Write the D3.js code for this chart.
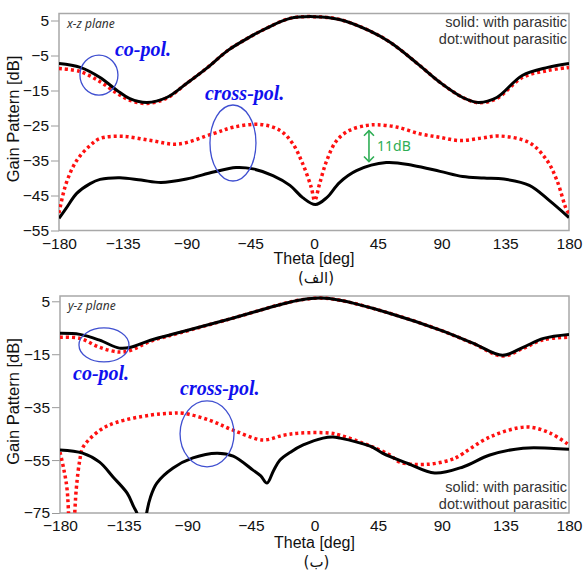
<!DOCTYPE html>
<html>
<head>
<meta charset="utf-8">
<script src="https://cdn.jsdelivr.net/npm/d3@7"></script>
<style>
  body { margin: 0; background: #fff; }
  svg { display: block; }
</style>
</head>
<body>
<svg id="chart"></svg>
<script>
// tick labels
const thetaTicks = [-180, -135, -90, -45, 0, 45, 90, 135, 180];
const xzTicks = [5, -5, -15, -25, -35, -45, -55];
const yzTicks = [5, -15, -35, -55, -75];

// x-z plane, [theta deg, gain dB]
const xzCoSolid = [[-180,-7.3],[-165,-8.4],[-151,-11.3],[-139,-15],[-130,-17.3],[-118,-18.4],[-104,-17],[-90,-13],[-75,-8.4],[-61,-3.6],[-47,-0.1],[-35,2.5],[-17,5.6],[0,6.1],[18,5.3],[39,2.1],[54,-1.3],[73,-7.3],[89,-12.7],[105,-17],[116,-18.4],[129,-17],[147,-10.7],[165,-8.4],[180,-7.3]];
const xzCoDot = [[-180,-8.7],[-165,-9.6],[-151,-12.5],[-139,-15.8],[-130,-17.8],[-118,-18.7],[-104,-17.2],[-90,-13],[-75,-8.4],[-61,-3.6],[-47,-0.1],[-35,2.5],[-17,5.6],[0,6.1],[18,5.3],[39,2.1],[54,-1.3],[73,-7.3],[89,-12.7],[105,-17],[116,-18.5],[129,-17.3],[147,-11.3],[165,-9.3],[180,-8.4]];
const xzCrossSolid = [[-180,-51.5],[-175,-48.7],[-167.5,-44.4],[-158,-41.6],[-151,-40.4],[-137,-39.9],[-122,-40.6],[-108,-41.3],[-90,-40.3],[-71,-38.3],[-55,-37],[-43,-37.4],[-29,-39.3],[-17,-42.1],[-8,-45.6],[1,-47.6],[9,-45.6],[18,-41.3],[30,-37.9],[51,-35.6],[70,-36.4],[89,-38.1],[105,-39.6],[120,-40],[134,-40.3],[152,-42.1],[166,-46.4],[180,-51.3]];
const xzCrossDot = [[-180,-50],[-175,-41.6],[-167.5,-35],[-158,-30.7],[-151,-28.7],[-135,-28.1],[-115,-29.3],[-96,-30.3],[-71,-27.3],[-57,-25.5],[-38,-24.7],[-24,-26.4],[-15,-30.2],[-8,-35.9],[-2,-42.6],[0.5,-46.4],[4,-41.6],[9,-35],[16,-29.3],[25,-26.4],[37,-25],[45,-24.8],[59,-25.5],[75,-27.4],[89,-28.4],[103,-29.3],[118,-28.6],[131,-28],[152,-29.9],[164.5,-35],[171.5,-40.7],[178.5,-49.3],[180,-50]];

// y-z plane, [theta deg, gain dB]
const yzCoSolid = [[-180,-7.1],[-166,-7.5],[-152,-9.7],[-138,-12.7],[-130,-12.4],[-116,-9.7],[-95,-6.7],[-58,-1.4],[-22,4.1],[-10,5.5],[4,6.2],[18,5.4],[53,0.5],[89,-5.9],[112,-10.8],[133,-15.4],[147.5,-12.4],[162,-9],[180,-7.5]];
const yzCoDot = [[-180,-8.6],[-166,-9],[-152,-12.4],[-138,-14.2],[-130,-13.5],[-116,-10.1],[-95,-6.9],[-58,-1.4],[-22,4.1],[-10,5.5],[4,6.2],[18,5.4],[53,0.5],[89,-5.9],[112,-10.9],[133,-15.7],[147.5,-12.8],[162,-9.5],[180,-8.6]];
const yzCrossSolid = [[-180,-51.2],[-164,-52.4],[-152,-55.8],[-142.5,-61.4],[-132.5,-67.5],[-128,-72.5],[-125,-76],[-122,-95],[-119,-76],[-116,-69],[-111.5,-63.7],[-100,-58],[-86,-54.2],[-69,-52.4],[-57.5,-53.5],[-43.5,-58.8],[-38,-61],[-33.6,-63.7],[-29,-59],[-24.4,-55],[-17,-52],[-8,-49.3],[6,-46.7],[13,-46.3],[18,-46.7],[30,-48.2],[41,-50.1],[48,-52.4],[66,-56.3],[85,-59.9],[105,-57.6],[124,-53.1],[147.5,-50.5],[166.6,-50.5],[180,-50.9]];
const yzCrossDot = [[-180,-52],[-177.5,-58],[-175,-66],[-172,-95],[-168.5,-66],[-166,-55],[-163.7,-50.1],[-151.7,-43.7],[-139.7,-40.7],[-116,-38],[-102,-37.3],[-93,-37.3],[-74,-40],[-57.6,-43.7],[-36.4,-47.4],[-22,-45.6],[-10.3,-44.8],[11,-44.8],[18,-45.6],[34.3,-48.6],[41.4,-50.1],[53.4,-53.1],[60.5,-55.8],[80,-56.6],[95.8,-55],[100.8,-53.9],[124,-46.3],[150,-42.5],[166.6,-44.8],[180,-49.3]];

const legendLines = ["solid: with parasitic", "dot:without parasitic"];

const svg = d3.select("#chart").attr("width", 583).attr("height", 572);

const panels = [
  {
    id: "xz", x0: 59, x1: 569, y0: 13.5, y1: 230.5, yDomain: [-55, 7], ticks: xzTicks,
    plane: "x-z plane", caption: "(الف)", captionY: 283, thetaY: 264,
    solids: [xzCoSolid, xzCrossSolid], dots: [xzCoDot, xzCrossDot],
    legendY: 27,
    notes: [
      { type: "ellipse", t: -151.8, v: -10.6, rx: 19, ry: 20 },
      { type: "ellipse", t: -57.2, v: -30, rx: 23, ry: 38 },
      { type: "label", t: -140.5, v: -5.1, text: "co-pol." },
      { type: "label", t: -77, v: -17.7, text: "cross-pol." }
    ],
    arrow: { t: 38.8, v0: -26.5, v1: -35.3, text: "11dB", tt: 44.5, tv: -32.3 }
  },
  {
    id: "yz", x0: 60, x1: 569, y0: 296, y1: 513, yDomain: [-75, 7], ticks: yzTicks,
    plane: "y-z plane", caption: "(ب)", captionY: 567, thetaY: 548,
    solids: [yzCoSolid, yzCrossSolid], dots: [yzCoDot, yzCrossDot],
    legendY: 492,
    notes: [
      { type: "ellipse", t: -148.9, v: -11.5, rx: 25, ry: 17 },
      { type: "ellipse", t: -76, v: -45.1, rx: 27, ry: 33 },
      { type: "label", t: -170.8, v: -24.7, text: "co-pol." },
      { type: "label", t: -95.1, v: -30.4, text: "cross-pol." }
    ]
  }
];

panels.forEach(p => {
  const x = d3.scaleLinear().domain([-180, 180]).range([p.x0, p.x1]);
  const y = d3.scaleLinear().domain(p.yDomain).range([p.y1, p.y0]);

  svg.append("clipPath").attr("id", "clip-" + p.id)
    .append("rect")
    .attr("x", p.x0).attr("y", p.y0)
    .attr("width", p.x1 - p.x0).attr("height", p.y1 - p.y0);

  // y axis
  const ya = svg.append("g")
    .attr("transform", `translate(${p.x0},0)`)
    .call(d3.axisLeft(y).tickValues(p.ticks).tickSize(8).tickPadding(2));
  ya.select(".domain").remove();
  ya.selectAll("line").attr("stroke", "#9a9a9a");
  ya.selectAll("text").attr("font-family", "Liberation Sans, Arial, sans-serif")
    .attr("font-size", 15.5).attr("fill", "#111");

  // x axis
  const xa = svg.append("g")
    .attr("transform", `translate(0,${p.y1})`)
    .call(d3.axisBottom(x).tickValues(thetaTicks).tickSize(0).tickPadding(7));
  xa.select(".domain").remove();
  xa.selectAll("text").attr("font-family", "Liberation Sans, Arial, sans-serif")
    .attr("font-size", 15.5).attr("fill", "#111");

  // frame
  svg.append("rect")
    .attr("x", p.x0).attr("y", p.y0)
    .attr("width", p.x1 - p.x0).attr("height", p.y1 - p.y0)
    .attr("fill", "none").attr("stroke", "#a8a8a8").attr("stroke-width", 1.5);

  const line = d3.line()
    .x(d => x(d[0])).y(d => y(d[1]))
    .curve(d3.curveCatmullRom.alpha(0.5));

  const g = svg.append("g").attr("clip-path", `url(#clip-${p.id})`);

  g.selectAll(".dot")
    .data(p.dots)
    .enter().append("path")
    .attr("d", line)
    .attr("fill", "none")
    .attr("stroke", "#ff1010")
    .attr("stroke-width", 3.5)
    .attr("stroke-dasharray", "3 3");

  g.selectAll(".solid")
    .data(p.solids)
    .enter().append("path")
    .attr("d", line)
    .attr("fill", "none")
    .attr("stroke", "#000")
    .attr("stroke-width", 3)
    .attr("stroke-linejoin", "round");

  // annotations
  p.notes.forEach(n => {
    if (n.type === "ellipse") {
      svg.append("ellipse")
        .attr("cx", x(n.t)).attr("cy", y(n.v))
        .attr("rx", n.rx).attr("ry", n.ry)
        .attr("fill", "none").attr("stroke", "#3f4fd0").attr("stroke-width", 1.3);
    } else {
      svg.append("text")
        .attr("x", x(n.t)).attr("y", y(n.v))
        .attr("font-family", "Liberation Serif, Times New Roman, serif")
        .attr("font-style", "italic").attr("font-weight", "bold")
        .attr("font-size", 20).attr("fill", "#1010ee")
        .text(n.text);
    }
  });

  if (p.arrow) {
    const a = p.arrow, ax = x(a.t), ya0 = y(a.v0), ya1 = y(a.v1);
    const ag = svg.append("g").attr("stroke", "#2fae55").attr("stroke-width", 1.6).attr("fill", "none");
    ag.append("line").attr("x1", ax).attr("x2", ax).attr("y1", ya0).attr("y2", ya1);
    ag.append("path").attr("d", `M${ax - 5},${ya0 + 5}L${ax},${ya0}L${ax + 5},${ya0 + 5}`);
    ag.append("path").attr("d", `M${ax - 5},${ya1 - 5}L${ax},${ya1}L${ax + 5},${ya1 - 5}`);
    svg.append("text")
      .attr("x", x(a.tt)).attr("y", y(a.tv))
      .attr("font-family", "Noto Sans, sans-serif").attr("font-size", 14)
      .attr("fill", "#2fae55").text(a.text);
  }

  svg.append("text")
    .attr("x", p.x0 + 8).attr("y", p.y0 + 14)
    .attr("font-family", "Noto Sans, sans-serif").attr("font-style", "italic")
    .attr("font-size", 12).attr("fill", "#333")
    .text(p.plane);

  svg.selectAll(null)
    .data(legendLines)
    .enter().append("text")
    .attr("x", p.x1 - 2)
    .attr("y", (d, i) => p.legendY + i * 17)
    .attr("text-anchor", "end")
    .attr("font-family", "Liberation Sans, Arial, sans-serif")
    .attr("font-size", 14.5).attr("fill", "#333")
    .text(d => d);

  // axis titles
  svg.append("text")
    .attr("x", (p.x0 + p.x1) / 2).attr("y", p.thetaY)
    .attr("text-anchor", "middle")
    .attr("font-family", "Liberation Sans, Arial, sans-serif")
    .attr("font-size", 16).attr("fill", "#111")
    .text("Theta [deg]");

  svg.append("text")
    .attr("x", (p.x0 + p.x1) / 2 + 2).attr("y", p.captionY)
    .attr("text-anchor", "middle")
    .attr("font-family", "DejaVu Sans, sans-serif")
    .attr("font-size", 15).attr("fill", "#111")
    .text(p.caption);

  svg.append("text")
    .attr("transform", `translate(19,${(p.y0 + p.y1) / 2 - 3}) rotate(-90)`)
    .attr("text-anchor", "middle")
    .attr("font-family", "Liberation Sans, Arial, sans-serif")
    .attr("font-size", 16.5).attr("fill", "#111")
    .text("Gain Pattern [dB]");
});
</script>
</body>
</html>
